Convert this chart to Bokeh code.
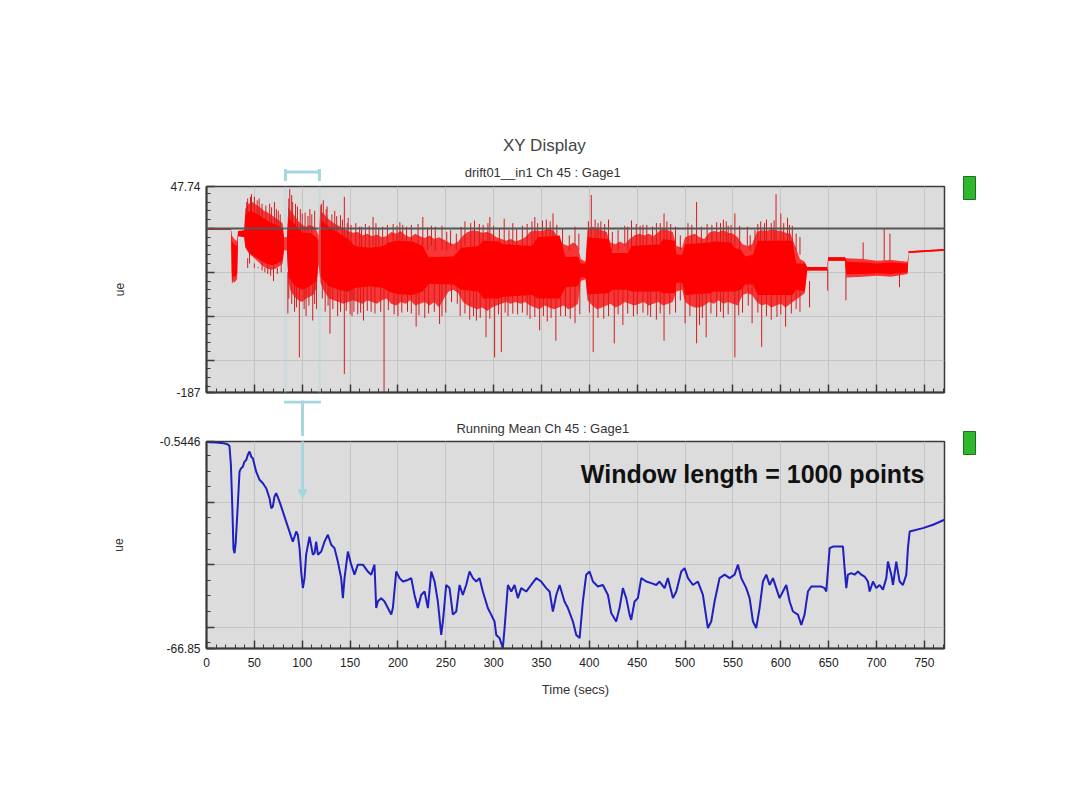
from bokeh.plotting import figure
from bokeh.models import Range1d, FixedTicker, Span, BoxAnnotation, Arrow, NormalHead
from bokeh.layouts import column, row
from bokeh.embed import file_html
from bokeh.resources import INLINE
from bokeh.core.properties import value

FONT = "Liberation Sans"

# ---------------- data ----------------
# raw gauge signal: outer (hairy) envelope, dense core, and individual spikes
sig_t = [0, 25.5, 26.5, 29, 32, 33, 36, 39.5, 40.5, 44, 48, 52, 56, 60, 64, 68, 72, 76, 79.5, 81, 84,
         85.5, 88, 92, 96, 100, 104, 108, 112, 115, 117, 119, 123, 128, 133, 138, 143, 148, 153, 158,
         163, 168, 173, 178, 183, 188, 193, 198, 203, 208, 213, 218, 223, 228, 233, 238, 243, 248, 253,
         258, 263, 268, 273, 278, 283, 288, 293, 298, 303, 308, 313, 318, 323, 328, 333, 338, 343, 348,
         353, 358, 363, 368, 373, 378, 383, 388, 391, 396, 398, 403, 408, 413, 418, 422, 427, 432, 437,
         442, 447, 452, 457, 462, 467, 472, 477, 482, 487, 491, 497, 500, 505, 510, 515, 520, 525, 530,
         535, 540, 545, 550, 555, 560, 565, 570, 575, 580, 585, 590, 595, 600, 605, 610, 615, 620, 625,
         627.5, 648.5, 649.5, 667, 668.5, 686, 700, 715, 732.5, 733.5, 771]
sig_hi = [0.5, 0.5, -8, -12, -15, -3, -3, -2, 22, 28, 30, 27, 24, 20, 18, 15, 12, 9, 6, -10, -10,
          24, 20, 14, 8, 4, 2, 4, 2, -2, -8, 20, 16, 10, 6, 3, 0, -3, -5, -4,
          -8, -6, -9, -7, -10, -9, -4, -6, -3, -8, -10, -6, -9, -11, -8, -12, -10, -13, -16,
          -18, -15, -8, -4, -2, -3, -5, -4, -6, -10, -12, -14, -12, -15, -13, -10, -4, -2, -3,
          -2, 0, -3, -12, -18, -20, -16, -20, -35, -38, -2, 2, 0, -2, -4, -16, -18, -15, -18,
          -12, -8, -6, -8, -6, -9, -4, 0, -2, -4, -20, -22, -10, -8, -6, -10, -12, -5, -3,
          -4, -2, -5, -6, -10, -18, -20, -18, -4, -2, -3, -1, -2, -3, -5, -6, -20, -35, -38,
          -44, -44, -33, -33, -34, -35, -37, -36, -38, -26, -23.5]
sig_lo = [-1.5, -1.5, -58, -62, -58, -9, -8, -10, -22, -28, -32, -36, -40, -44, -46, -47, -46, -43, -40, -25, -25,
          -60, -72, -78, -82, -84, -80, -78, -75, -68, -40, -62, -72, -80, -82, -84, -86, -84, -82, -84,
          -86, -82, -84, -86, -82, -80, -86, -88, -84, -86, -82, -88, -86, -84, -88, -84, -90, -80, -72,
          -70, -74, -84, -88, -90, -92, -90, -94, -90, -88, -86, -84, -86, -84, -86, -84, -88, -90, -92,
          -88, -90, -92, -90, -88, -92, -90, -86, -60, -58, -82, -88, -92, -90, -88, -86, -90, -88, -84,
          -86, -88, -86, -84, -88, -86, -84, -88, -86, -84, -72, -70, -84, -88, -90, -90, -88, -84, -86,
          -82, -86, -84, -86, -88, -76, -74, -76, -84, -88, -86, -90, -88, -86, -90, -86, -82, -78, -74,
          -48, -48, -37, -37, -56, -55, -54, -55, -52, -28, -25.5]

core_t = [0, 25.5, 26.5, 29, 32, 33, 39.5, 40.5, 45, 50, 56, 62, 68, 74, 79.5, 81, 84, 85.5, 92, 100,
          108, 115, 117, 119, 128, 138, 148, 155, 170, 185, 190, 200, 215, 226, 232, 258, 266, 284, 289,
          305, 310, 340, 346, 369, 375, 388, 391, 396, 398, 420, 424, 440, 444, 474, 477, 489, 491, 497,
          500, 525, 530, 548, 552, 558, 563, 571, 576, 612, 616, 625, 627.5, 648.5, 649.5, 667, 668.5,
          686, 700, 715, 732.5, 733.5, 771]
core_hi = [0.5, 0.5, -15, -18, -20, -3, -2, 15, 20, 18, 14, 10, 6, 4, 0, -10, -10, 12, 5, -5,
           -5, -10, -15, 10, 2, -5, -12, -20, -22, -20, -16, -14, -15, -20, -33, -32, -22, -20, -14,
           -15, -18, -20, -10, -8, -33, -32, -40, -40, -10, -12, -28, -28, -20, -18, -12, -14, -30, -30,
           -18, -16, -15, -16, -22, -24, -32, -30, -14, -14, -40, -40, -44, -44, -33, -33, -38,
           -39, -40, -39, -40, -26, -23.5]
core_lo = [-1.5, -1.5, -52, -56, -52, -9, -10, -20, -28, -32, -36, -40, -42, -40, -36, -25, -25, -55, -65, -70,
           -66, -60, -40, -55, -66, -70, -72, -68, -66, -68, -72, -75, -76, -72, -63, -64, -70, -72, -80,
           -80, -78, -76, -80, -80, -67, -66, -56, -56, -75, -74, -70, -70, -72, -72, -74, -74, -62, -62,
           -76, -74, -72, -72, -72, -70, -64, -64, -76, -76, -70, -72, -48, -48, -37, -37, -52,
           -52, -51, -52, -50, -28, -25.5]

# large spikes: time, lower end, upper end
spike_table = [
    (47, 0, 39), (50, 0, 36), (62, 0, 26), (71, 0, 30), (42, 0, 30), (55, 0, 34), (66, 0, 28), (75, 0, 20),
    (87, 0, 45), (90, 0, 30), (95, 0, 25), (100, -20, 17), (108, 0, 22), (113, 0, 20),
    (120, 0, 28), (122, 0, 32), (126, 0, 25), (134, 0, 20), (140, 0, 15), (144, -20, 36), (148, -20, 12),
    (160, -20, 2), (174, -20, 13), (180, -20, 0), (195, -20, 5), (205, -20, 4), (226, -20, 13),
    (235, -20, 3), (255, -20, -2), (270, -20, 8), (285, -20, 5), (296, -20, 13), (311, -20, 11),
    (320, -20, 6), (330, -20, 3), (343, -20, 13), (355, -20, 10), (362, -20, 17), (372, -20, 0),
    (385, -20, 2), (402, -20, 38), (412, -20, 8), (420, -20, 10), (437, -20, 3), (444, -20, 9),
    (456, -20, 4), (470, -20, 6), (478, -20, 17), (490, -20, 2), (503, -20, 6), (512, -20, 30),
    (528, -20, 4), (533, -20, 7), (540, -20, 10), (545, -20, 3), (552, -20, 17), (565, -20, 2),
    (576, -20, 5), (585, -20, 10), (590, -20, 6), (595, -20, 39), (600, -20, 17), (607, -20, 12),
    (612, -20, 3), (620, -30, -10), (686, -35, -16), (708, -37, -0.5), (714, -37, -6),
    (27, -62, -30), (45, -40, -20), (58, -48, -30), (64, -52, -30), (70, -60, -30), (78, -50, -30),
    (85, -97, -50), (92, -95, -50), (97, -147, -50), (104, -100, -50), (111, -105, -50), (115, -92, -50),
    (124, -95, -50), (129, -120, -50), (137, -100, -50), (144, -166, -50), (150, -98, -50),
    (152, -100, -60), (158, -98, -60), (164, -105, -60), (172, -95, -60), (185.5, -188, -60),
    (200, -100, -60), (210, -95, -60), (219, -112, -60), (228, -102, -60), (243.5, -109, -60),
    (250, -96, -60), (265, -100, -60), (275, -104, -60), (282, -105, -60), (292, -124, -60),
    (301, -147, -60), (308, -141, -60), (315, -100, -60), (325, -98, -60), (338, -103, -60),
    (348, -116, -60), (356, -106, -60), (365, -128, -60), (375, -100, -60), (385, -108, -60),
    (404, -141, -60), (415, -103, -60), (426, -131, -60), (435, -110, -60), (450, -98, -60),
    (464, -101, -60), (470, -104, -60), (478, -128, -60), (490, -96, -60), (500, -108, -60),
    (512, -131, -60), (515, -110, -60), (522, -124, -60), (533, -101, -60), (540, -102, -60),
    (552, -147, -60), (560, -96, -60), (570, -108, -60), (580, -135, -60), (590, -104, -60),
    (605, -112, -60), (620, -95, -60), (630, -90, -60), (649, -71, -46), (668, -82, -35), (724, -67, -45),
]
# fine "hair" on the envelope edges: time, tip value
hair_up = [(43, 34), (46, 36), (53, 32), (58, 28), (68, 24), (73, 22), (77, 16), (86, 34), (89, 38),
           (93, 28), (98, 22), (103, 18), (106, 14), (110, 16), (119, 26), (125, 22), (131, 16),
           (136, 14), (142, 10), (147, 6), (151, 4), (156, 6), (162, 2), (166, 5), (170, 3), (177, 6),
           (184, 2), (189, 4), (199, 3), (202, 7), (209, 2), (214, 4), (221, 5), (231, 1), (239, 2),
           (246, 3), (251, -4), (261, -6), (266, 2), (276, 6), (280, 9), (289, 4), (294, 6), (300, 3),
           (306, 0), (316, -2), (324, 0), (335, 5), (340, 8), (346, 6), (351, 9), (359, 8), (366, 4),
           (379, -8), (389, -6), (399, 8), (406, 10), (409, 6), (416, 5), (424, -4), (430, -2),
           (440, 2), (449, 5), (453, 3), (460, 4), (466, 2), (474, 6), (481, 8), (485, 5), (495, -8),
           (507, 4), (517, 2), (523, 5), (537, 6), (543, 8), (548, 4), (557, 3), (568, -8), (573, -2),
           (579, 8), (583, 6), (593, 9), (603, 6), (609, 4), (616, -6)]
hair_down = [(43, -34), (50, -40), (54, -44), (61, -50), (67, -54), (74, -52), (86, -80), (89, -86),
             (94, -90), (102, -92), (107, -88), (113, -86), (121, -80), (127, -88), (132, -92),
             (140, -95), (146, -94), (154, -95), (161, -96), (168, -94), (176, -97), (182, -95),
             (190, -93), (196, -98), (204, -96), (214, -97), (222, -99), (232, -97), (238, -95),
             (246, -100), (256, -84), (262, -86), (270, -97), (279, -100), (286, -102), (296, -103),
             (305, -98), (312, -96), (320, -97), (330, -96), (335, -99), (343, -101), (352, -100),
             (360, -102), (370, -100), (380, -103), (390, -98), (400, -96), (409, -102), (420, -100),
             (430, -98), (440, -97), (446, -100), (456, -96), (461, -99), (474, -97), (484, -98),
             (495, -82), (505, -100), (518, -102), (527, -97), (537, -95), (545, -98), (556, -99),
             (566, -88), (576, -96), (585, -100), (596, -101), (600, -98), (611, -97), (616, -92)]

spike_t = [s[0] for s in spike_table] + [h[0] for h in hair_up] + [h[0] for h in hair_down]
spike_lo = [s[1] for s in spike_table] + [-25 for h in hair_up] + [h[1] for h in hair_down]
spike_hi = [s[2] for s in spike_table] + [h[1] for h in hair_up] + [-45 for h in hair_down]

# running mean (window = 1000 points)
mean_t = [0, 3, 10, 18, 22, 24, 25.5, 27, 28.2, 29.3, 30.5, 32.5, 34.5, 36.2, 38, 39.7, 41.5, 43.2, 45,
          46.7, 48.4, 51.9, 55.4, 58.9, 62.4, 65.8, 67.6, 69.3, 71, 72.8, 76.3, 79.8, 83.2, 86.7, 88.4,
          90.2, 92, 93.7, 95.4, 97.2, 98.9, 100.7, 102.4, 104.1, 107.6, 111.1, 112.9, 114.6, 116.4,
          119.9, 123.3, 126.8, 130.3, 133.7, 137.2, 140.7, 142.5, 144.2, 147.7, 151.2, 154.6, 158.1,
          163.4, 168.6, 172.1, 175.5, 177.3, 179, 182.5, 186, 189.5, 193, 194.7, 198.2, 201.7, 205.2,
          210.4, 213.9, 217.3, 220.8, 224.3, 227.8, 231.3, 234.8, 238.3, 241.7, 245.2, 247, 250.4,
          253.9, 257.4, 260.9, 264.4, 267.8, 271.3, 274.8, 278.3, 281.8, 285.2, 288.7, 293.9, 297.4,
          300.9, 302.7, 306.1, 309.6, 311.4, 314.9, 318.4, 321.8, 325.3, 328.8, 334, 339.2, 344.5,
          349.7, 354.9, 358.4, 361.9, 365.4, 368.9, 374, 377.6, 382.8, 386.3, 389.8, 393.2, 396.7,
          400.2, 403.7, 408.9, 414.1, 419.4, 422.8, 428, 431.5, 435, 438.5, 442, 443.7, 447.2, 450.7,
          454.2, 459.4, 464.6, 469.9, 473.3, 478.6, 482, 487.3, 490.8, 496, 499.5, 503, 508.2, 513.4,
          518.6, 523.8, 527.3, 530.8, 536, 541.3, 546.5, 551.7, 555.2, 558.7, 563.9, 567.4, 570.9,
          574.3, 577.8, 581.3, 584.8, 588.3, 591.8, 595.2, 598.7, 602.2, 605.7, 609.2, 612.7, 617.9,
          621.4, 624.8, 628.3, 631.8, 637, 642.3, 645.7, 647.5, 651, 654.5, 659.7, 664.9, 666.6, 668.4,
          670.1, 673.6, 677.1, 680.6, 684.1, 687.5, 691, 692.8, 696.3, 699.7, 703.2, 706.7, 710.2,
          711.9, 715.4, 717.2, 720.6, 724.1, 727.6, 731.1, 732.8, 734.6, 748.5, 759, 771]
mean_v = [-0.6, -0.76, -0.9, -1.1, -1.4, -2.0, -8, -22, -35, -36.3, -33, -22, -10.2, -9.1, -8.6, -7, -6.5, -4.8, -3.75,
          -5.4, -5.9, -10.2, -12.8, -13.9, -15.5, -18.7, -21.9, -21.4, -18.2, -17.1, -19.8, -23, -26.2, -29.4, -31,
          -32.6, -31, -29.4, -30.4, -34.7, -42.2, -47.5, -44.3, -36.8, -31, -36.8, -36.3, -32.6, -36.8,
          -35.8, -32.6, -30.4, -33.6, -34.7, -39, -44.3, -50.7, -44.3, -35.8, -40, -43.2, -40,
          -40, -42.2, -43.2, -40, -53.9, -51.8, -50.7, -51.8, -53.9, -56, -53.9, -42.2, -44.3, -45.4,
          -44.9, -44.3, -49.7, -53.9, -49.7, -48.6, -53.9, -42.2, -45.4, -51.8, -62.5, -58.2, -46.5,
          -47.5, -56, -55, -46.5, -49.7, -46.5, -42.2, -44.3, -45.4, -44.3, -48.6, -53.9, -56,
          -58.2, -62.5, -63.5, -66.7, -60.3, -46.5, -48.6, -46.5, -50.7, -47.5, -48.6, -46.5, -44.3,
          -45.4, -47.5, -48.6, -55, -49.7, -46.5, -51.8, -53.9, -58.2, -62.5, -63.5, -51.8, -43.2,
          -42.2, -45.4, -47, -46.5, -49.7, -55.5, -58.2, -53.9, -47.5, -50.7, -56, -57.7, -51.8, -50.7,
          -44.3, -45.4, -45.9, -46.5, -45.4, -47.5, -44.3, -50.7, -48.6, -42.2, -41.1, -44.3, -46.5, -45.4,
          -49.7, -60.3, -58.2, -51.8, -44.3, -43.2, -44.3, -43.2, -40, -44.3, -47.5, -50.7, -58.2,
          -60.3, -53.9, -45.4, -43.2, -46.5, -44.3, -47.5, -50.7, -48.6, -46.5, -51.8, -55, -56,
          -59.3, -56, -48.6, -47, -47, -47, -47.5, -48.6, -34.7, -34.2, -34.2, -34.2, -41.1, -47.5,
          -43.2, -42.7, -43.2, -42.2, -43.2, -43.8, -45.4, -48.6, -45.4, -47.5, -46.5, -48, -44.3,
          -39, -43.2, -46.5, -39, -45.4, -46.5, -43.2, -34.7, -29.4, -28.3, -27.2, -25.6]

x_major = [0, 50, 100, 150, 200, 250, 300, 350, 400, 450, 500, 550, 600, 650, 700, 750]
x_minor = [v for v in range(10, 771, 10) if v % 50]
top_y_major = [-187, -150, -100, -50, 0, 47.74]
top_y_minor = [v for v in range(-180, 48, 10) if v % 50]
top_y_labels = {-187: "-187", -150: "", -100: "", -50: "", 0: "", 47.74: "47.74"}
bot_y_major = [-66.85, -60, -40, -20, -0.5446]
bot_y_minor = [-65, -55, -50, -45, -35, -30, -25, -15, -10, -5]
bot_y_labels = {-66.85: "-66.85", -60: "", -40: "", -20: "", -0.5446: "-0.5446"}

highlight = (82.5, 118)   # seconds shown in the light-blue window
arrow_t = 100.3           # where the connector arrow points
arrow_tip = -18.8
title_t = 353.2           # horizontal centre of the titles (seconds axis)

# ---------------- layout constants (pixels) ----------------
LEFT, FRAME_W, RIGHT = 206, 738, 5
HEAD_H = 181              # header strip (titles) height
TOP_PAD = 5
TOP_FRAME_H = 206
TOP_BELOW = 8
MID_H = 36
BOT_PAD = 5
BOT_FRAME_H = 207
BOT_BORDER = 143
BLUE = "#a8d6de"
FRAME_BG = "#dcdcdc"
DARK = "#3a3a3a"


def style(p):
    p.background_fill_color = FRAME_BG
    p.border_fill_color = "white"
    p.outline_line_color = DARK
    p.outline_line_width = 1.5
    p.grid.grid_line_color = "#c4c4c4"
    p.grid.grid_line_width = 1
    for ax in (p.xaxis[0], p.yaxis[0]):
        ax.axis_line_color = DARK
        ax.axis_line_width = 2
        ax.major_tick_in = 8
        ax.major_tick_out = 0
        ax.minor_tick_in = 4
        ax.minor_tick_out = 0
        ax.major_tick_line_color = DARK
        ax.minor_tick_line_color = DARK
        ax.major_tick_line_width = 1.5
        ax.major_label_text_font = FONT
        ax.major_label_text_font_size = "12px"
        ax.major_label_text_color = "#222222"
        ax.axis_label_text_font = FONT
        ax.axis_label_text_font_size = "12px"
        ax.axis_label_text_font_style = "normal"
        ax.axis_label_text_color = "#333333"
    p.xaxis.ticker = FixedTicker(ticks=x_major, minor_ticks=x_minor)
    p.yaxis.major_label_standoff = 6


def blank(height, yr):
    p = figure(frame_width=FRAME_W, frame_height=height, x_range=xr, y_range=yr,
               min_border_left=LEFT, min_border_right=RIGHT, min_border_top=0, min_border_bottom=0,
               x_axis_type=None, y_axis_type=None, output_backend="svg", toolbar_location=None, tools="")
    p.outline_line_color = None
    p.background_fill_color = "white"
    p.border_fill_color = "white"
    return p


xr = Range1d(0, 771)

# ---------------- header (titles + top of highlight box) ----------------
head = blank(HEAD_H, Range1d(HEAD_H, 0))
head.text(x=[title_t], y=[145], text=["XY Display"], text_align="center", text_baseline="middle",
          text_font=value(FONT), text_font_size="17px", text_color="#444444")
head.text(x=[title_t], y=[172], text=["drift01__in1  Ch 45 : Gage1"], text_align="center",
          text_baseline="middle", text_font=value(FONT), text_font_size="13px", text_color="#333333")
head.segment(x0=[highlight[0], highlight[1], highlight[0]], y0=[170, 170, 171.5],
             x1=[highlight[0], highlight[1], highlight[1]], y1=[HEAD_H, HEAD_H, 171.5],
             line_color=BLUE, line_width=3, line_cap="square")

# ---------------- top plot ----------------
top = figure(frame_width=FRAME_W, frame_height=TOP_FRAME_H, x_range=xr, y_range=Range1d(-187, 47.74),
             min_border_left=LEFT, min_border_right=RIGHT, min_border_top=TOP_PAD, min_border_bottom=TOP_BELOW,
             output_backend="svg", toolbar_location=None, tools="")
style(top)
top.yaxis.ticker = FixedTicker(ticks=top_y_major, minor_ticks=top_y_minor)
top.yaxis.major_label_overrides = top_y_labels
top.xaxis.major_label_overrides = {v: "" for v in x_major}
top.xaxis.major_label_text_font_size = "0px"
top.xaxis.major_label_standoff = 0
top.yaxis.axis_label = "ue"
top.yaxis.axis_label_standoff = 40

top.add_layout(Span(location=0, dimension="width", line_color="#555555", line_width=2))
top.varea(x=sig_t, y1=sig_lo, y2=sig_hi, fill_color="#ff1010", fill_alpha=0.82)
top.segment(x0=spike_t, y0=spike_lo, x1=spike_t, y1=spike_hi, line_color="#d41c1c", line_width=1)
top.varea(x=core_t, y1=core_lo, y2=core_hi, fill_color="#ff0000")
top.add_layout(BoxAnnotation(left=highlight[0], right=highlight[1], top=80, bottom=-230,
                             fill_alpha=0, line_color=BLUE, line_width=3))

# ---------------- middle strip (box bottom, connector, subtitle) ----------------
mid_top = HEAD_H + TOP_PAD + TOP_FRAME_H + TOP_BELOW
mid = blank(MID_H, Range1d(mid_top + MID_H, mid_top))
mid.segment(x0=[highlight[0], arrow_t], y0=[mid_top + 1.5, mid_top],
            x1=[highlight[1], arrow_t], y1=[mid_top + 1.5, mid_top + MID_H],
            line_color=BLUE, line_width=3, line_cap="square")
mid.text(x=[title_t], y=[mid_top + 28], text=["Running Mean  Ch 45 : Gage1"], text_align="center",
         text_baseline="middle", text_font=value(FONT), text_font_size="13px", text_color="#333333")

# ---------------- bottom plot ----------------
bot = figure(frame_width=FRAME_W, frame_height=BOT_FRAME_H, x_range=xr, y_range=Range1d(-66.85, -0.5446),
             min_border_left=LEFT, min_border_right=RIGHT, min_border_top=BOT_PAD, min_border_bottom=BOT_BORDER,
             output_backend="svg", toolbar_location=None, tools="")
style(bot)
bot.yaxis.ticker = FixedTicker(ticks=bot_y_major, minor_ticks=bot_y_minor)
bot.yaxis.major_label_overrides = bot_y_labels
bot.yaxis.axis_label = "ue"
bot.yaxis.axis_label_standoff = 31
bot.xaxis.axis_label = "Time (secs)"
bot.xaxis.axis_label_text_font_size = "13px"
bot.xaxis.major_label_standoff = 9
bot.xaxis.axis_label_standoff = 12

bot.line(mean_t, mean_v, line_color="#2020c0", line_width=2)
bot.add_layout(Arrow(x_start=arrow_t, y_start=5, x_end=arrow_t, y_end=arrow_tip,
                     line_color=BLUE, line_width=3,
                     end=NormalHead(size=9, fill_color=BLUE, line_color=BLUE)))
bot.text(x=[570.5], y=[-11.1], text=["Window length = 1000 points"], text_align="center",
         text_baseline="middle", text_font=value(FONT), text_font_size="25px",
         text_font_style="bold", text_color="#111111")

# ---------------- right strip with the two green status markers ----------------
total_h = HEAD_H + TOP_PAD + TOP_FRAME_H + TOP_BELOW + MID_H + BOT_PAD + BOT_FRAME_H + BOT_BORDER
side_x0 = LEFT + FRAME_W + RIGHT
side = figure(frame_width=110, frame_height=total_h, x_range=Range1d(side_x0, side_x0 + 110),
              y_range=Range1d(total_h, 0), min_border=0, x_axis_type=None, y_axis_type=None,
              output_backend="svg", toolbar_location=None, tools="")
side.outline_line_color = None
side.background_fill_color = "white"
side.border_fill_color = "white"
marker_top = [176, 431]
side.quad(left=[963, 963], right=[975, 975], top=marker_top, bottom=[m + 23 for m in marker_top],
          fill_color="#2db82d", line_color="#1f6f1f", line_width=1)

layout = row(column(head, top, mid, bot), side)
open("out.html", "w").write(file_html(layout, INLINE))
